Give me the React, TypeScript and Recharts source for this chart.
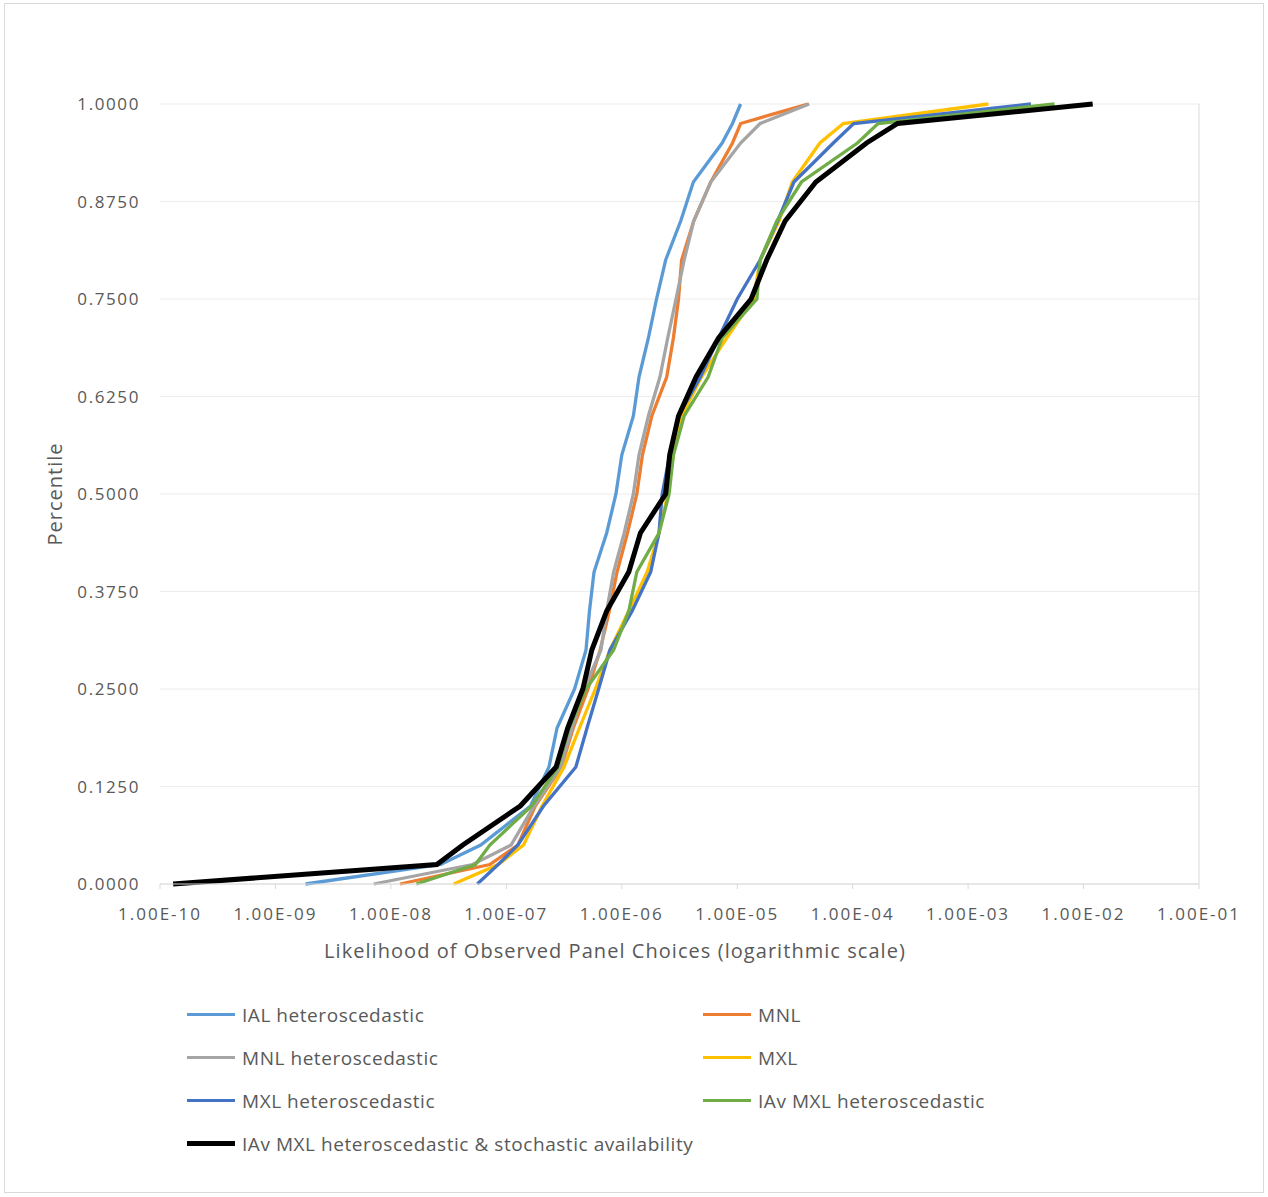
import { LineChart, Line, XAxis, YAxis, CartesianGrid, ReferenceLine, Label } from 'recharts';

// percentile levels shared by every series
const percentiles = [
  0, 0.025, 0.05, 0.1, 0.15, 0.2, 0.25, 0.3, 0.35, 0.4, 0.45, 0.5,
  0.55, 0.6, 0.65, 0.7, 0.75, 0.8, 0.85, 0.9, 0.95, 0.975, 1,
];

const ialHet = [
  1.82e-9, 2.7e-8, 6.0e-8, 1.62e-7, 2.34e-7, 2.75e-7, 3.9e-7, 4.9e-7, 5.25e-7, 5.75e-7, 7.4e-7, 8.9e-7,
  1.0e-6, 1.26e-6, 1.41e-6, 1.7e-6, 2.0e-6, 2.4e-6, 3.24e-6, 4.17e-6, 7.4e-6, 9.1e-6, 1.07e-5,
];
const mnl = [
  1.2e-8, 7.2e-8, 1.26e-7, 1.78e-7, 3.0e-7, 3.8e-7, 5.1e-7, 6.5e-7, 7.8e-7, 9.1e-7, 1.12e-6, 1.35e-6,
  1.51e-6, 1.82e-6, 2.45e-6, 2.8e-6, 3.1e-6, 3.3e-6, 4.2e-6, 5.9e-6, 9.1e-6, 1.07e-5, 4.1e-5,
];
const mnlHet = [
  7.1e-9, 5.1e-8, 1.1e-7, 1.74e-7, 2.95e-7, 3.7e-7, 4.7e-7, 6.6e-7, 7.4e-7, 8.5e-7, 1.05e-6, 1.26e-6,
  1.41e-6, 1.7e-6, 2.14e-6, 2.5e-6, 2.95e-6, 3.47e-6, 4.2e-6, 5.9e-6, 1.07e-5, 1.58e-5, 4.2e-5,
];
const mxl = [
  3.5e-8, 8.5e-8, 1.41e-7, 2.04e-7, 3.16e-7, 4.3e-7, 5.9e-7, 7.9e-7, 1.15e-6, 1.66e-6, 2.1e-6, 2.5e-6,
  2.8e-6, 3.3e-6, 4.9e-6, 8.1e-6, 1.38e-5, 1.58e-5, 2.3e-5, 3.0e-5, 5.2e-5, 8.3e-5, 1.5e-3,
];
const mxlHet = [
  5.6e-8, 8.5e-8, 1.26e-7, 2.1e-7, 4.0e-7, 5.0e-7, 6.3e-7, 7.9e-7, 1.23e-6, 1.78e-6, 2.1e-6, 2.24e-6,
  2.6e-6, 3.1e-6, 4.8e-6, 6.9e-6, 1.0e-5, 1.58e-5, 2.24e-5, 3.1e-5, 6.8e-5, 1.02e-4, 3.5e-3,
];
const iavMxlHet = [
  1.66e-8, 5.4e-8, 7.2e-8, 1.66e-7, 2.8e-7, 3.5e-7, 4.9e-7, 8.5e-7, 1.15e-6, 1.35e-6, 2.1e-6, 2.57e-6,
  2.8e-6, 3.47e-6, 5.6e-6, 7.4e-6, 1.48e-5, 1.58e-5, 2.2e-5, 3.6e-5, 1.1e-4, 1.66e-4, 5.6e-3,
];
const iavMxlHetStoch = [
  1.3e-10, 2.5e-8, 4.2e-8, 1.32e-7, 2.7e-7, 3.4e-7, 4.6e-7, 5.5e-7, 7.4e-7, 1.15e-6, 1.45e-6, 2.4e-6,
  2.6e-6, 3.1e-6, 4.4e-6, 6.9e-6, 1.32e-5, 1.8e-5, 2.6e-5, 4.8e-5, 1.32e-4, 2.45e-4, 1.2e-2,
];

const xTicks = [1e-10, 1e-9, 1e-8, 1e-7, 1e-6, 1e-5, 1e-4, 1e-3, 1e-2, 1e-1];
const yTicks = [0, 0.125, 0.25, 0.375, 0.5, 0.625, 0.75, 0.875, 1];

const series = [
  { name: 'IAL heteroscedastic', values: ialHet, color: '#5B9BD5', width: 3.3 },
  { name: 'MNL', values: mnl, color: '#ED7D31', width: 3.3 },
  { name: 'MNL heteroscedastic', values: mnlHet, color: '#A5A5A5', width: 3.3 },
  { name: 'MXL', values: mxl, color: '#FFC000', width: 3.3 },
  { name: 'MXL heteroscedastic', values: mxlHet, color: '#4472C4', width: 3.3 },
  { name: 'IAv MXL heteroscedastic', values: iavMxlHet, color: '#70AD47', width: 3.3 },
  { name: 'IAv MXL heteroscedastic & stochastic availability', values: iavMxlHetStoch, color: '#000000', width: 5 },
];

const FONT = '"Open Sans", sans-serif';
const TEXT = '#595959';

const fmtX = (v: number) => {
  const e = Math.round(Math.log10(v));
  return `1.00E${e < 0 ? '-' : '+'}${String(Math.abs(e)).padStart(2, '0')}`;
};

export default function App() {
  return (
    <div style={{ position: 'relative', width: 1268, height: 1197, fontFamily: FONT }}>
      <style>{'body{margin:0}'}</style>
      <div
        style={{
          position: 'absolute', left: 4, top: 3, width: 1260, height: 1190,
          border: '1px solid #d9d9d9', boxSizing: 'border-box',
        }}
      />
      <div style={{ position: 'absolute', left: 0, top: 0 }}>
        <LineChart width={1268} height={980} margin={{ top: 104, right: 69, left: 30, bottom: 46 }}>
          <CartesianGrid vertical={false} stroke="#ececec" />
          <XAxis
            type="number"
            dataKey="x"
            scale="log"
            domain={[1e-10, 1e-1]}
            ticks={xTicks}
            tickFormatter={fmtX}
            allowDataOverflow
            height={50}
            stroke="#d9d9d9"
            tickSize={5}
            tickMargin={19}
            tick={{ fill: TEXT, fontSize: 17, fontFamily: FONT, letterSpacing: 2 }}
          >
            <Label
              content={({ viewBox }: any) => (
                <text
                  x={viewBox.x + 455}
                  y={viewBox.y + 74}
                  textAnchor="middle"
                  fill={TEXT}
                  fontSize={20}
                  fontFamily={FONT}
                  letterSpacing={1.05}
                >
                  Likelihood of Observed Panel Choices (logarithmic scale)
                </text>
              )}
            />
          </XAxis>
          <YAxis
            type="number"
            domain={[0, 1]}
            ticks={yTicks}
            tickFormatter={(v: number) => v.toFixed(4)}
            width={130}
            axisLine={false}
            tickLine={false}
            tickSize={0}
            tickMargin={20}
            tick={{ fill: TEXT, fontSize: 17, fontFamily: FONT, letterSpacing: 1.6 }}
          >
            <Label
              content={({ viewBox }: any) => (
                <text
                  x={viewBox.x + 24}
                  y={viewBox.y + viewBox.height / 2}
                  transform={`rotate(-90 ${viewBox.x + 24} ${viewBox.y + viewBox.height / 2})`}
                  textAnchor="middle"
                  dominantBaseline="central"
                  fill={TEXT}
                  fontSize={20}
                  fontFamily={FONT}
                  letterSpacing={1}
                >
                  Percentile
                </text>
              )}
            />
          </YAxis>
          <ReferenceLine x={1e-1} stroke="#d9d9d9" />
          {series.map((s) => (
            <Line
              key={s.name}
              name={s.name}
              data={s.values.map((x, i) => ({ x, y: percentiles[i] }))}
              dataKey="y"
              type="linear"
              stroke={s.color}
              strokeWidth={s.width}
              dot={false}
              activeDot={false}
              isAnimationActive={false}
            />
          ))}
        </LineChart>
      </div>
      <div
        style={{
          position: 'absolute', left: 187, top: 993, width: 1032,
          display: 'grid', gridTemplateColumns: '516px 516px', rowGap: 0,
        }}
      >
        {series.map((s) => (
          <div key={s.name} style={{ display: 'flex', alignItems: 'center', height: 43 }}>
            <span style={{ display: 'inline-block', width: 48, height: s.width, background: s.color, marginRight: 7 }} />
            <span style={{ fontSize: 19, letterSpacing: 0.55, color: TEXT, whiteSpace: 'nowrap' }}>{s.name}</span>
          </div>
        ))}
      </div>
    </div>
  );
}
